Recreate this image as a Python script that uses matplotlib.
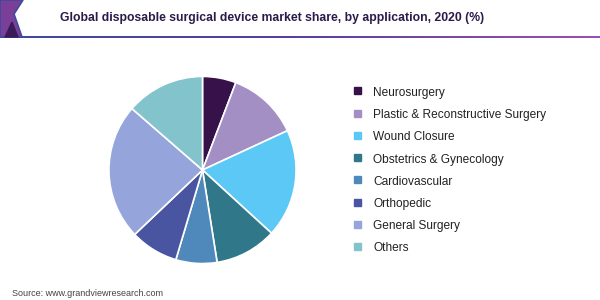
import matplotlib
matplotlib.use("Agg")
import numpy as np
from matplotlib import pyplot as plt
from matplotlib.colors import LinearSegmentedColormap
from matplotlib.patches import Rectangle, Polygon

plt.rcParams['font.family'] = ['Liberation Sans', 'DejaVu Sans']

categories = ['Neurosurgery', 'Plastic & Reconstructive Surgery', 'Wound Closure',
              'Obstetrics & Gynecology', 'Cardiovascular', 'Orthopedic',
              'General Surgery', 'Others']
shares = [5.8, 12.3, 18.7, 10.7, 7.1, 8.3, 23.5, 13.6]
colors = ['#37114a', '#a48fc4', '#5bc8f5', '#307889', '#4f89bb', '#4a55a2',
          '#95a4db', '#82c3cc']

W, H = 600, 300
fig = plt.figure(figsize=(6, 3), dpi=100)

# header decoration: gradient rule under the title
line_ax = fig.add_axes([0, 1 - 38 / H, 1, 2 / H])
grad = LinearSegmentedColormap.from_list('hdr', ['#3f4a9a', '#5a3f9e', '#9b4fb5'])
line_ax.imshow(np.linspace(0, 1, 256)[None, :], aspect='auto', cmap=grad)
line_ax.axis('off')

# left chevron
fig.patches.append(Polygon([[0, 1], [23 / W, 1], [14 / W, 1 - 14 / H], [22 / W, 1 - 37 / H], [0, 1 - 37 / H]],
                           closed=True, transform=fig.transFigure, facecolor='#7a3f98',
                           edgecolor='#3f4a9a', linewidth=1.2, zorder=1))
fig.patches.append(Polygon([[5 / W, 1 - 37 / H], [12 / W, 1 - 22 / H], [18 / W, 1 - 37 / H]],
                           closed=True, transform=fig.transFigure, color='#3b1a5a', zorder=2))

fig.text(272 / W, 1 - 18 / H, 'Global disposable surgical device market share, by application, 2020 (%)',
         ha='center', va='center', fontsize=8.8, fontweight='bold', color='#2b1a4a')

# pie
ax = fig.add_axes([(202.5 - 94.5) / W, (130 - 94.5) / H, 189 / W, 189 / H])
ax.pie(shares, colors=colors, startangle=90, counterclock=False, radius=1,
       wedgeprops=dict(edgecolor='white', linewidth=1.2))
ax.set_xlim(-1.01, 1.01)
ax.set_ylim(-1.01, 1.01)
ax.set_aspect('equal')
ax.axis('off')

# legend
for i, (lab, c) in enumerate(zip(categories, colors)):
    y = 93 + i * 22.2
    fig.patches.append(Rectangle((354 / W, 1 - (y + 1.5) / H), 7 / W, 7 / H,
                                 transform=fig.transFigure, color=c))
    fig.text(373 / W, 1 - y / H, lab, ha='left', va='center', fontsize=8.6, color='#222222')

fig.text(12 / W, 1 - 294 / H, 'Source: www.grandviewresearch.com', ha='left', va='center',
         fontsize=6.5, color='#444444')

fig.savefig('out.png', dpi=100)
